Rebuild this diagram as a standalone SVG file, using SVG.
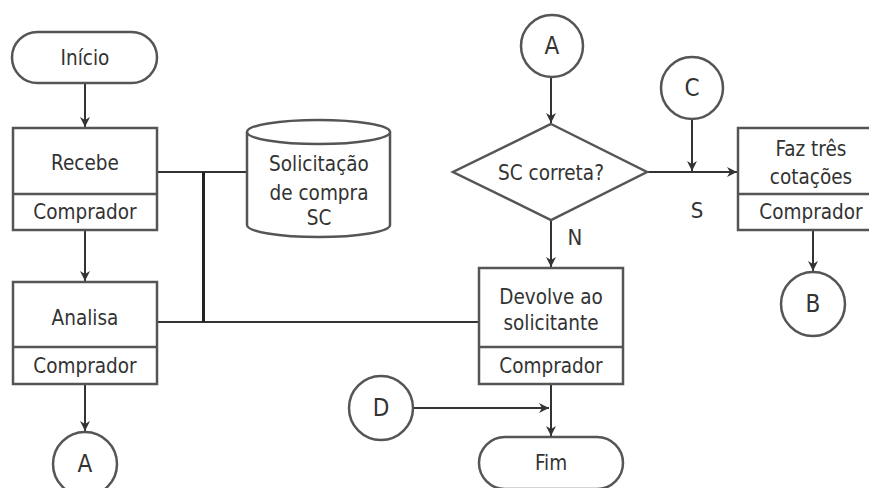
<svg xmlns="http://www.w3.org/2000/svg" width="869" height="488" viewBox="0 0 869 488">
<defs>
<marker id="ah" viewBox="0 0 10 10" refX="10" refY="5" markerWidth="11" markerHeight="10" markerUnits="userSpaceOnUse" orient="auto">
<path d="M0,0 L10,5 L0,10 L3,5 Z" fill="#333"/>
</marker>
<style>
.sh{fill:#fff;stroke:#555;stroke-width:2.5}
.t{font-family:"DejaVu Sans Condensed","DejaVu Sans",sans-serif;font-size:20.5px;fill:#333;text-anchor:middle}
.c{fill:none;stroke:#333;stroke-width:2}
.a{fill:none;stroke:#333;stroke-width:2;marker-end:url(#ah)}
</style>
</defs>
<rect width="869" height="488" fill="#fff"/>
<g id="connectors">
<path class="a" d="M85,83 V127"/>
<path class="a" d="M85,230 V281"/>
<path class="a" d="M85,384 V431"/>
<path class="c" d="M157,172 H247"/>
<path class="c" d="M157,322 H480"/>
<path d="M203.5,172 V322" fill="none" stroke="#222" stroke-width="3"/>
<path class="a" d="M551,77 V123"/>
<path class="a" d="M551,220 V267"/>
<path class="a" d="M647,172 H737"/>
<path class="a" d="M692,120 V171"/>
<path class="a" d="M813,230 V271"/>
<path class="a" d="M413,408 H549"/>
<path class="a" d="M551,384 V436"/>
<text class="t" x="575" y="245" style="font-size:22px">N</text>
<text class="t" x="697" y="218" style="font-size:22px">S</text>
</g>
<g id="inicio">
<rect class="sh" x="12" y="32" width="145" height="51" rx="25.5"/>
<text class="t" x="85" y="65">Início</text>
</g>
<g id="recebe">
<rect class="sh" x="13" y="128" width="144" height="102"/>
<line class="sh" x1="13" y1="194" x2="157" y2="194"/>
<text class="t" x="85" y="170">Recebe</text>
<text class="t" x="85" y="219">Comprador</text>
</g>
<g id="solicitacao">
<path class="sh" d="M247,132 A71.5,12 0 0 1 390,132 V225 A71.5,12 0 0 1 247,225 Z"/>
<path class="sh" d="M247,132 A71.5,12 0 0 0 390,132" fill="none"/>
<text class="t" x="319" y="171">Solicitação</text>
<text class="t" x="319" y="200">de compra</text>
<text class="t" x="319" y="225">SC</text>
</g>
<g id="analisa">
<rect class="sh" x="13" y="282" width="144" height="102"/>
<line class="sh" x1="13" y1="347" x2="157" y2="347"/>
<text class="t" x="85" y="325">Analisa</text>
<text class="t" x="85" y="373">Comprador</text>
</g>
<g id="a-bottom">
<circle class="sh" cx="85" cy="464" r="32"/>
<text class="t" x="85" y="472" style="font-size:24px">A</text>
</g>
<g id="a-top">
<circle class="sh" cx="552" cy="46" r="31"/>
<text class="t" x="552" y="54" style="font-size:24px">A</text>
</g>
<g id="decisao">
<polygon class="sh" points="551,124 647,172 551,220 453,172"/>
<text class="t" x="551" y="180">SC correta?</text>
</g>
<g id="c">
<circle class="sh" cx="692" cy="88" r="31"/>
<text class="t" x="692" y="96" style="font-size:24px">C</text>
</g>
<g id="faz">
<rect class="sh" x="738" y="128" width="150" height="102"/>
<line class="sh" x1="738" y1="194" x2="888" y2="194"/>
<text class="t" x="811" y="156">Faz três</text>
<text class="t" x="811" y="184">cotações</text>
<text class="t" x="811" y="219">Comprador</text>
</g>
<g id="b">
<circle class="sh" cx="813" cy="304" r="32"/>
<text class="t" x="813" y="312" style="font-size:24px">B</text>
</g>
<g id="devolve">
<rect class="sh" x="479" y="268" width="144" height="116"/>
<line class="sh" x1="479" y1="347" x2="623" y2="347"/>
<text class="t" x="551" y="304">Devolve ao</text>
<text class="t" x="551" y="330">solicitante</text>
<text class="t" x="551" y="373">Comprador</text>
</g>
<g id="d">
<circle class="sh" cx="381" cy="408" r="32"/>
<text class="t" x="381" y="416" style="font-size:24px">D</text>
</g>
<g id="fim">
<rect class="sh" x="479" y="437" width="144" height="52" rx="26"/>
<text class="t" x="551" y="470">Fim</text>
</g>
</svg>
